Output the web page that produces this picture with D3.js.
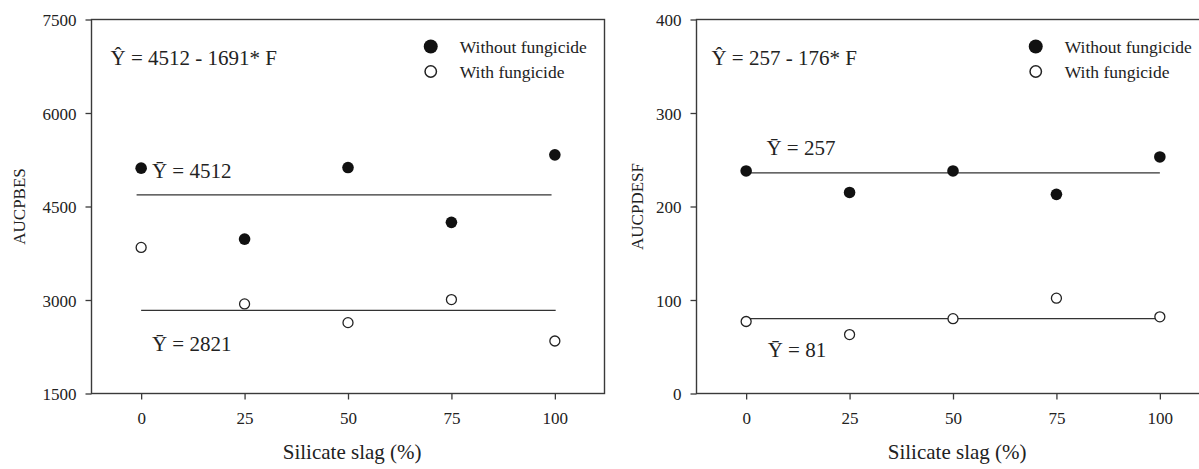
<!DOCTYPE html>
<html>
<head>
<meta charset="utf-8">
<script src="https://cdn.jsdelivr.net/npm/d3@7"></script>
<style>
  body { margin: 0; background: #fff; }
  text { font-family: "Liberation Serif", "Times New Roman", serif; fill: #222; }
</style>
</head>
<body>
<div id="chart"></div>
<script>
// silicate slag levels (x)
var slag = [0, 25, 50, 75, 100];

// AUCPBES, left panel
var pbesWithout = [5115, 3977, 5125, 4246, 5329];
var pbesWith = [3844, 2937, 2637, 3007, 2342];
var pbesMeans = [4685, 2835];
var pbesMeanSpans = [[-1.1, 99.2], [0, 100.2]];
var pbesTicks = [1500, 3000, 4500, 6000, 7500];
var pbesEquation = ["4512 - 1691* F", -7.4, 6770];
var pbesMeanLabels = [["4512", 2.6, 4951], ["2821", 2.6, 2179]];

// AUCPDESF, right panel
var desfWithout = [238, 215, 238, 213, 253];
var desfWith = [77, 63, 80, 102, 82];
var desfMeans = [236, 80];
var desfMeanSpans = [[0, 100], [0, 100]];
var desfTicks = [0, 100, 200, 300, 400];
var desfEquation = ["257 - 176* F", -8.4, 351];
var desfMeanLabels = [["257", 4.9, 255], ["81", 5.2, 38.8]];

var xTicks = [0, 25, 50, 75, 100];
var seriesNames = ["Without fungicide", "With fungicide"];

var W = 1199, H = 469;
var svg = d3.select('#chart').append('svg')
  .attr('width', W).attr('height', H);

var plotTop = 19.5, plotBottom = 393.5, plotW = 513;

var panels = [
  {left: 91.5, ylab: 'AUCPBES', ylabX: 19, domain: [1500, 7500], ticks: pbesTicks,
   without: pbesWithout, withF: pbesWith, means: pbesMeans, spans: pbesMeanSpans,
   eq: pbesEquation, meanLabels: pbesMeanLabels},
  {left: 696.5, ylab: 'AUCPDESF', ylabX: 637, domain: [0, 400], ticks: desfTicks,
   without: desfWithout, withF: desfWith, means: desfMeans, spans: desfMeanSpans,
   eq: desfEquation, meanLabels: desfMeanLabels}
];

var axisColor = '#3a3a3a';

panels.forEach(function(p) {
  var g = svg.append('g');

  var x = d3.scaleLinear().domain([-12, 112]).range([p.left, p.left + plotW]);
  var y = d3.scaleLinear().domain(p.domain).range([plotBottom, plotTop]);

  // frame
  g.append('rect')
    .attr('x', p.left).attr('y', plotTop)
    .attr('width', plotW).attr('height', plotBottom - plotTop)
    .attr('fill', 'none').attr('stroke', axisColor).attr('stroke-width', 1.4);

  var yAxis = g.append('g')
    .attr('transform', 'translate(' + p.left + ',0)')
    .call(d3.axisLeft(y).tickValues(p.ticks).tickSize(6).tickSizeOuter(0).tickPadding(9));
  var xAxis = g.append('g')
    .attr('transform', 'translate(0,' + plotBottom + ')')
    .call(d3.axisBottom(x).tickValues(xTicks).tickSize(6).tickSizeOuter(0).tickPadding(12));

  [yAxis, xAxis].forEach(function(a) {
    a.select('.domain').remove();
    a.selectAll('line').attr('stroke', axisColor).attr('stroke-width', 1.3);
    a.selectAll('text')
      .style('font-family', '"Liberation Serif", "Times New Roman", serif')
      .style('font-size', '17px').attr('fill', '#222');
  });
  yAxis.selectAll('text').attr('dy', '0.36em').text(function(d) { return d; });

  // axis titles
  g.append('text')
    .attr('transform', 'translate(' + p.ylabX + ',' + ((plotTop + plotBottom) / 2) + ') rotate(-90)')
    .attr('text-anchor', 'middle').attr('dy', '0.36em')
    .style('font-size', '17px')
    .text(p.ylab);
  g.append('text')
    .attr('x', x(51)).attr('y', 459)
    .attr('text-anchor', 'middle')
    .style('font-size', '21px')
    .text('Silicate slag (%)');

  // mean lines
  g.selectAll('.mean').data(p.means).enter().append('line')
    .attr('x1', function(d, i) { return x(p.spans[i][0]); })
    .attr('x2', function(d, i) { return x(p.spans[i][1]); })
    .attr('y1', function(d) { return y(d); })
    .attr('y2', function(d) { return y(d); })
    .attr('stroke', '#333').attr('stroke-width', 1.2);

  // points
  g.selectAll('.without').data(p.without).enter().append('circle')
    .attr('cx', function(d, i) { return x(slag[i]); })
    .attr('cy', function(d) { return y(d); })
    .attr('r', 5.8).attr('fill', '#111');
  g.selectAll('.withf').data(p.withF).enter().append('circle')
    .attr('cx', function(d, i) { return x(slag[i]); })
    .attr('cy', function(d) { return y(d); })
    .attr('r', 5).attr('fill', '#fff').attr('stroke', '#222').attr('stroke-width', 1.3);

  // equation and mean labels
  g.append('text')
    .attr('x', x(p.eq[1])).attr('y', y(p.eq[2]))
    .style('font-size', '21px')
    .text('\u0176 = ' + p.eq[0]);
  g.selectAll('.mlab').data(p.meanLabels).enter().append('text')
    .attr('x', function(d) { return x(d[1]); })
    .attr('y', function(d) { return y(d[2]); })
    .style('font-size', '21px')
    .text(function(d) { return '\u0232 = ' + d[0]; });

  // legend
  var lx = x(70), ly = plotTop + 27;
  seriesNames.forEach(function(name, i) {
    var c = g.append('circle')
      .attr('cx', lx).attr('cy', ly + i * 25);
    if (i == 0) c.attr('r', 7).attr('fill', '#111');
    else c.attr('r', 5.7).attr('fill', '#fff').attr('stroke', '#222').attr('stroke-width', 1.5);
    g.append('text')
      .attr('x', lx + 29).attr('y', ly + i * 25 + 6)
      .style('font-size', '17.5px')
      .text(name);
  });
});
</script>
</body>
</html>
